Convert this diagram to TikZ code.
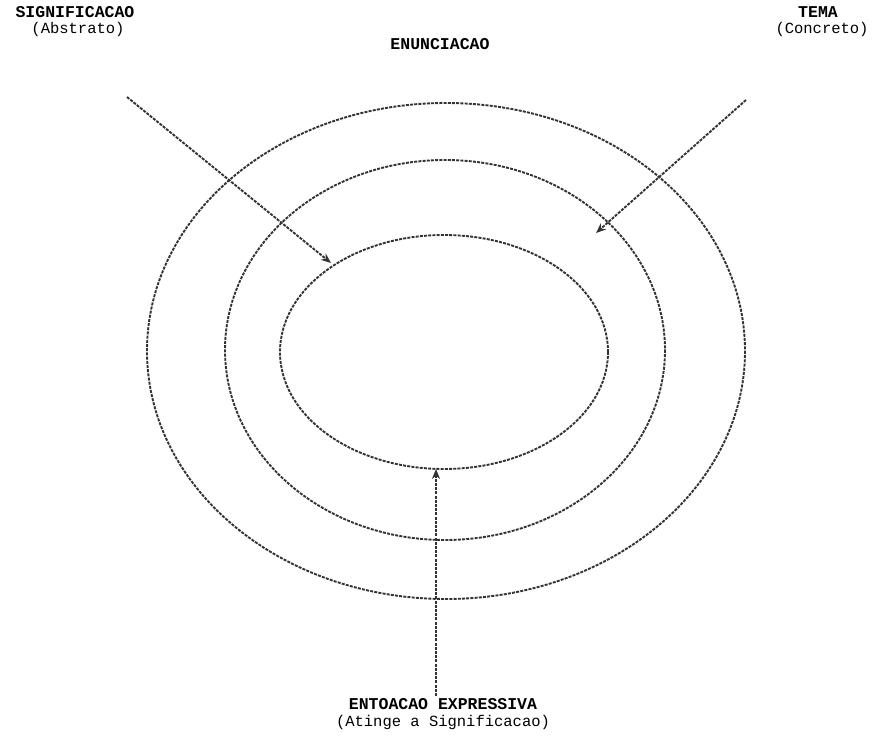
\documentclass[tikz,border=0pt]{standalone}
\usepackage{fontspec}
\setmonofont{Liberation Mono}
\usetikzlibrary{arrows.meta}
\tikzset{
  ring/.style={draw=black!80, line width=1.9pt, dash pattern=on 3pt off 1.2pt},
  arr/.style={draw=black!80, line width=1.9pt, dash pattern=on 3pt off 1.2pt, -{Stealth[length=10pt,width=8pt,fill=black]}},
  title/.style={font=\ttfamily\bfseries\fontsize{16.5}{16.5}\selectfont, inner sep=0pt, anchor=base},
  sub/.style={font=\ttfamily\fontsize{15.5}{15.5}\selectfont, inner sep=0pt, anchor=base}
}
\begin{document}
\begin{tikzpicture}[x=1pt,y=-1pt]
\useasboundingbox (0,0) rectangle (878,741);
\node[title] (sig) at (75,18) {SIGNIFICACAO};
\node[sub] (abs) at (78,34) {(Abstrato)};
\node[title] (tema) at (818,18) {TEMA};
\node[sub] (conc) at (822,34) {(Concreto)};
\node[title] (enun) at (440,50) {ENUNCIACAO};
\node[title] (ento) at (443,709) {ENTOACAO EXPRESSIVA};
\node[sub] (ating) at (443,726) {(Atinge a Significacao)};
\draw[ring] (446,351) ellipse [x radius=299, y radius=248];
\draw[ring] (445,350) ellipse [x radius=220, y radius=190];
\draw[ring] (444,352) ellipse [x radius=164, y radius=117];
\coordinate (a1) at (127,97);
\coordinate (a1e) at (331,263);
\coordinate (a2) at (746,100);
\coordinate (a2e) at (596,233);
\coordinate (a3) at (436,696);
\coordinate (a3e) at (436,469);
\draw[arr] (a1) -- (a1e);
\draw[arr] (a2) -- (a2e);
\draw[arr] (a3) -- (a3e);
\end{tikzpicture}
\end{document}
